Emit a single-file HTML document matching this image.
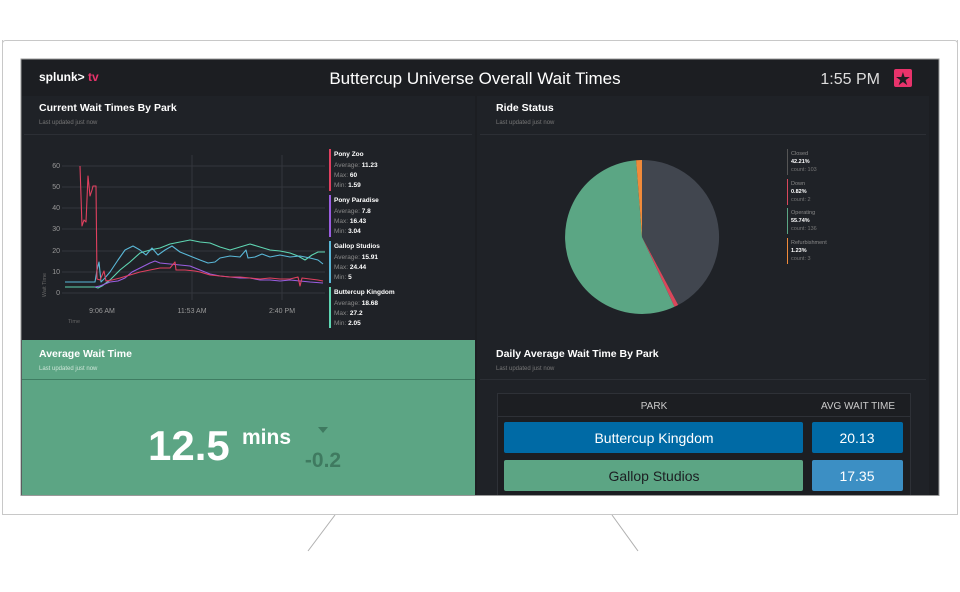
<!DOCTYPE html>
<html><head><meta charset="utf-8"><style>
body{margin:0;background:#fff;width:960px;height:592px;overflow:hidden}
svg{display:block;font-family:"Liberation Sans",sans-serif}
</style></head><body>
<svg width="960" height="592" viewBox="0 0 960 592">
<rect x="2.5" y="40.5" width="955" height="474" rx="3" fill="#fff" stroke="#c8c8c8"/>
<line x1="335" y1="515" x2="308" y2="551" stroke="#b0b0b0"/>
<line x1="612" y1="515" x2="638" y2="551" stroke="#b0b0b0"/>
<rect x="21" y="59" width="918" height="437" fill="#1c1e22" stroke="#999"/>
<!-- header -->
<text x="39" y="81" fill="#fff" font-size="12" font-weight="bold">splunk&gt;</text>
<text x="88" y="81" fill="#e8336b" font-size="12" font-weight="bold">tv</text>
<text x="475" y="84" fill="#fff" font-size="17" text-anchor="middle">Buttercup Universe Overall Wait Times</text>
<text x="880" y="84" fill="#ddd" font-size="16" text-anchor="end">1:55 PM</text>
<rect x="894" y="69" width="18" height="18" fill="#e8336b" rx="2"/>
<text x="903" y="85" fill="#1c1e22" font-size="18" text-anchor="middle">★</text>
<!-- panels -->
<rect x="22" y="96" width="453" height="244" fill="#1f2227"/>
<rect x="477" y="96" width="452" height="244" fill="#1f2227"/>
<line x1="24" y1="134.5" x2="472" y2="134.5" stroke="#2c2f35"/>
<line x1="480" y1="134.5" x2="926" y2="134.5" stroke="#2c2f35"/>
<text x="39" y="111" fill="#fff" font-size="10.5" font-weight="bold">Current Wait Times By Park</text>
<text x="39" y="124" fill="#777" font-size="6">Last updated just now</text>
<text x="496" y="111" fill="#fff" font-size="10.5" font-weight="bold">Ride Status</text>
<text x="496" y="124" fill="#777" font-size="6">Last updated just now</text>
<!-- chart grid -->
<g stroke="#33363c" stroke-width="1">
<line x1="62" y1="166" x2="325" y2="166"/><line x1="62" y1="187" x2="325" y2="187"/><line x1="62" y1="208" x2="325" y2="208"/><line x1="62" y1="229" x2="325" y2="229"/><line x1="62" y1="251" x2="325" y2="251"/><line x1="62" y1="272" x2="325" y2="272"/><line x1="62" y1="293" x2="325" y2="293"/>
<line x1="192" y1="155" x2="192" y2="300"/><line x1="282" y1="155" x2="282" y2="300"/>
</g>
<g fill="#999" font-size="7" text-anchor="end">
<text x="60" y="168">60</text><text x="60" y="189">50</text><text x="60" y="210">40</text><text x="60" y="231">30</text><text x="60" y="253">20</text><text x="60" y="274">10</text><text x="60" y="295">0</text>
</g>
<g fill="#999" font-size="7" text-anchor="middle">
<text x="102" y="313">9:06 AM</text><text x="192" y="313">11:53 AM</text><text x="282" y="313">2:40 PM</text>
</g>
<text x="74" y="323" fill="#666" font-size="5.5" text-anchor="middle">Time</text>
<text x="46" y="285" fill="#666" font-size="5.5" text-anchor="middle" transform="rotate(-90 46 285)">Wait Time</text>
<g fill="none" stroke-width="1.1" stroke-linejoin="round">
<polyline stroke="#5fd6b3" points="65,287 95,287 98,288 102,286 110,280 120,270 130,262 140,253 150,250 160,248 170,244 180,242 190,240 200,242 210,243 220,247 230,250 240,247 250,244 260,247 270,250 280,251 290,253 298,256 305,260 312,255 318,252 325,252"/>
<polyline stroke="#5ab8d8" points="65,282 95,282 97,270 99,262 101,282 104,279 110,272 118,260 125,250 133,246 140,250 146,255 152,248 158,255 165,250 172,246 180,252 190,256 200,260 208,263 215,262 220,258 230,256 240,257 246,250 248,258 255,257 262,254 270,257 280,255 290,257 300,256 310,258 318,260 323,264"/>
<polyline stroke="#9a5ee0" points="95,287 100,286 105,284 110,282 118,281 125,278 132,272 140,268 146,265 150,263 155,261 160,263 170,264 180,265 190,266 200,270 210,274 220,276 230,277 240,278 250,278 260,280 270,280 280,281 290,280 300,281 310,282 323,283"/>
<polyline stroke="#e0405f" points="80,166 82,226 84,220 86,222 88,176 90,196 92,190 93,186 96,186 97,279 100,280 104,271 106,281 112,280 120,278 130,275 140,272 150,270 160,268 170,268 175,262 176,270 185,270 195,271 200,272 210,275 220,276 230,277 240,277 250,278 260,279 270,278 280,279 290,279 298,277 300,286 302,278 310,279 318,280 323,281"/>
</g>
<!-- legend -->
<g font-size="6.5">
<rect x="329" y="149" width="2" height="42" fill="#e0405f"/>
<text x="334" y="156" fill="#fff" font-weight="bold">Pony Zoo</text>
<text x="334" y="167" fill="#888">Average: <tspan fill="#fff" font-weight="bold">11.23</tspan></text>
<text x="334" y="177" fill="#888">Max: <tspan fill="#fff" font-weight="bold">60</tspan></text>
<text x="334" y="187" fill="#888">Min: <tspan fill="#fff" font-weight="bold">1.59</tspan></text>
<rect x="329" y="195" width="2" height="42" fill="#9a5ee0"/>
<text x="334" y="202" fill="#fff" font-weight="bold">Pony Paradise</text>
<text x="334" y="213" fill="#888">Average: <tspan fill="#fff" font-weight="bold">7.8</tspan></text>
<text x="334" y="223" fill="#888">Max: <tspan fill="#fff" font-weight="bold">16.43</tspan></text>
<text x="334" y="233" fill="#888">Min: <tspan fill="#fff" font-weight="bold">3.04</tspan></text>
<rect x="329" y="241" width="2" height="42" fill="#5ab8d8"/>
<text x="334" y="248" fill="#fff" font-weight="bold">Gallop Studios</text>
<text x="334" y="259" fill="#888">Average: <tspan fill="#fff" font-weight="bold">15.91</tspan></text>
<text x="334" y="269" fill="#888">Max: <tspan fill="#fff" font-weight="bold">24.44</tspan></text>
<text x="334" y="279" fill="#888">Min: <tspan fill="#fff" font-weight="bold">5</tspan></text>
<rect x="329" y="287" width="2" height="41" fill="#5fd6b3"/>
<text x="334" y="294" fill="#fff" font-weight="bold">Buttercup Kingdom</text>
<text x="334" y="305" fill="#888">Average: <tspan fill="#fff" font-weight="bold">18.68</tspan></text>
<text x="334" y="315" fill="#888">Max: <tspan fill="#fff" font-weight="bold">27.2</tspan></text>
<text x="334" y="325" fill="#888">Min: <tspan fill="#fff" font-weight="bold">2.05</tspan></text>
</g>
<!-- pie -->
<path d="M642,237 L642,160 A77,77 0 0 1 678.2,305 Z" fill="#41464f"/>
<path d="M642,237 L678.2,305 A77,77 0 0 1 674.5,306.8 Z" fill="#d9475b"/>
<path d="M642,237 L674.5,306.8 A77,77 0 1 1 636.1,160.2 Z" fill="#5ba684"/>
<path d="M642,237 L636.1,160.2 A77,77 0 0 1 642,160 Z" fill="#f08a3a"/>
<g font-size="5.5">
<rect x="787" y="149" width="1" height="26" fill="#555"/>
<text x="791" y="155" fill="#888">Closed</text><text x="791" y="163" fill="#fff" font-weight="bold">42.21%</text><text x="791" y="171" fill="#777">count: 103</text>
<rect x="787" y="179" width="1" height="26" fill="#d9475b"/>
<text x="791" y="185" fill="#888">Down</text><text x="791" y="193" fill="#fff" font-weight="bold">0.82%</text><text x="791" y="201" fill="#777">count: 2</text>
<rect x="787" y="208" width="1" height="26" fill="#5ba684"/>
<text x="791" y="214" fill="#888">Operating</text><text x="791" y="222" fill="#fff" font-weight="bold">55.74%</text><text x="791" y="230" fill="#777">count: 136</text>
<rect x="787" y="238" width="1" height="26" fill="#f08a3a"/>
<text x="791" y="244" fill="#888">Refurbishment</text><text x="791" y="252" fill="#fff" font-weight="bold">1.23%</text><text x="791" y="260" fill="#777">count: 3</text>
</g>
<!-- green panel -->
<rect x="22" y="340" width="453" height="155" fill="#5ca584"/>
<line x1="22" y1="379.5" x2="475" y2="379.5" stroke="#3f7d62"/>
<text x="39" y="357" fill="#fff" font-size="10.5" font-weight="bold">Average Wait Time</text>
<text x="39" y="370" fill="#cfe6d9" font-size="6">Last updated just now</text>
<text x="148" y="460" fill="#fff" font-size="42" font-weight="bold">12.5</text>
<text x="242" y="444" fill="#fff" font-size="21" font-weight="bold">mins</text>
<path d="M318,427 L328,427 L323,433 Z" fill="#3f7a60"/>
<text x="323" y="467" fill="#3f7a60" font-size="21" font-weight="bold" text-anchor="middle">-0.2</text>
<!-- table panel -->
<rect x="477" y="340" width="452" height="155" fill="#1f2227"/>
<line x1="480" y1="379.5" x2="926" y2="379.5" stroke="#2c2f35"/>
<text x="496" y="357" fill="#fff" font-size="10.5" font-weight="bold">Daily Average Wait Time By Park</text>
<text x="496" y="370" fill="#777" font-size="6">Last updated just now</text>
<rect x="497.5" y="393.5" width="413" height="110" fill="#1c1e22" stroke="#2e3137"/>
<line x1="498" y1="416.5" x2="910" y2="416.5" stroke="#2e3137"/>
<text x="654" y="409" fill="#ccc" font-size="10" text-anchor="middle">PARK</text>
<text x="858" y="409" fill="#ccc" font-size="10" text-anchor="middle">AVG WAIT TIME</text>
<rect x="504" y="422" width="299" height="31" rx="2" fill="#006aa5"/>
<text x="654" y="443" fill="#fff" font-size="14" text-anchor="middle">Buttercup Kingdom</text>
<rect x="812" y="422" width="91" height="31" rx="2" fill="#006aa5"/>
<text x="857" y="443" fill="#fff" font-size="14" text-anchor="middle">20.13</text>
<rect x="504" y="460" width="299" height="31" rx="2" fill="#5ca584"/>
<text x="654" y="481" fill="#1c1e22" font-size="14" text-anchor="middle">Gallop Studios</text>
<rect x="812" y="460" width="91" height="31" rx="2" fill="#3c8fc4"/>
<text x="857" y="481" fill="#fff" font-size="14" text-anchor="middle">17.35</text>
<rect x="0" y="496" width="960" height="18" fill="#fff"/>
<line x1="21" y1="495.5" x2="939" y2="495.5" stroke="#999"/>
<line x1="2.5" y1="40" x2="2.5" y2="515" stroke="#c8c8c8"/>
<line x1="957.5" y1="40" x2="957.5" y2="515" stroke="#c8c8c8"/>
<line x1="2" y1="514.5" x2="958" y2="514.5" stroke="#c8c8c8"/>
</svg>
</body></html>
